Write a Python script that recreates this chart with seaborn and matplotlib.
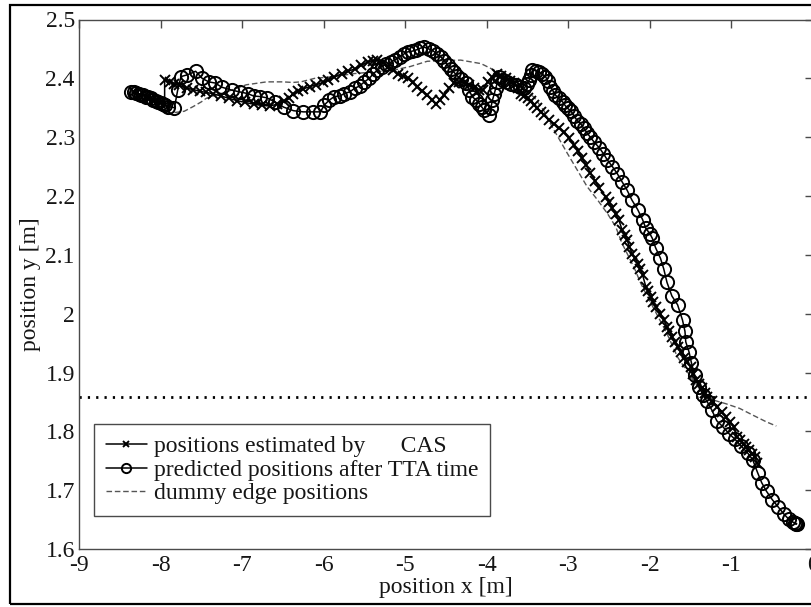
import matplotlib
matplotlib.use("Agg")
import matplotlib.pyplot as plt
from matplotlib.patches import Rectangle
import seaborn as sns

# ---------------- data ----------------
cas_x = [-8.33, -8.25, -8.17, -8.09, -8.01, -7.95,
         -7.95, -7.89, -7.83, -7.77, -7.68, -7.60, -7.52, -7.44, -7.36, -7.26, -7.16, -7.06,
         -6.96, -6.86, -6.76, -6.66, -6.57, -6.49, -6.43, -6.37, -6.31, -6.25, -6.17, -6.09,
         -6.01, -5.95, -5.87, -5.78, -5.70, -5.62, -5.54, -5.46, -5.40, -5.34, -5.27, -5.21,
         -5.15, -5.09, -5.03, -4.97, -4.91, -4.85, -4.79, -4.73, -4.67, -4.62, -4.57, -4.52,
         -4.46, -4.40, -4.34, -4.28, -4.22, -4.16, -4.10, -4.05, -3.99, -3.93, -3.87, -3.82,
         -3.77, -3.72, -3.67, -3.62, -3.58, -3.54, -3.50, -3.46, -3.42, -3.38, -3.34, -3.30,
         -3.24, -3.18, -3.12, -3.05, -2.99, -2.93, -2.88, -2.83, -2.78, -2.73, -2.67, -2.62,
         -2.54, -2.50, -2.46, -2.42, -2.38, -2.34, -2.31, -2.28, -2.25, -2.22, -2.18, -2.15,
         -2.12, -2.09, -2.05, -2.02, -1.99, -1.96, -1.93, -1.87, -1.83, -1.79, -1.76, -1.73,
         -1.69, -1.66, -1.62, -1.58, -1.54, -1.50, -1.47, -1.44, -1.40, -1.36, -1.33, -1.30,
         -1.24, -1.18, -1.12, -1.07, -1.02, -0.97, -0.93, -0.89, -0.85, -0.82, -0.79, -0.75,
         -0.71, -0.69]
cas_y = [2.376, 2.372, 2.368, 2.364, 2.358, 2.354,
         2.397, 2.394, 2.391, 2.388, 2.383, 2.381, 2.378, 2.376, 2.374, 2.370, 2.366, 2.362,
         2.359, 2.356, 2.354, 2.353, 2.356, 2.361, 2.367, 2.373, 2.378, 2.382, 2.386, 2.389,
         2.393, 2.397, 2.402, 2.408, 2.412, 2.416, 2.422, 2.428, 2.430, 2.431, 2.426, 2.420,
         2.414, 2.408, 2.404, 2.400, 2.393, 2.386, 2.379, 2.372, 2.364, 2.357, 2.364, 2.372,
         2.383, 2.392, 2.393, 2.392, 2.388, 2.383, 2.381, 2.380, 2.394, 2.403, 2.408, 2.404,
         2.400, 2.396, 2.392, 2.384, 2.374, 2.370, 2.366, 2.361, 2.355, 2.349, 2.343, 2.338,
         2.330, 2.323, 2.316, 2.309, 2.298, 2.287, 2.276, 2.264, 2.252, 2.239, 2.226, 2.213,
         2.199, 2.189, 2.179, 2.169, 2.159, 2.142, 2.134, 2.125, 2.114, 2.102, 2.094, 2.085,
         2.076, 2.066, 2.046, 2.038, 2.029, 2.020, 2.012, 2.000, 1.989, 1.978, 1.970, 1.961,
         1.952, 1.944, 1.934, 1.924, 1.917, 1.910, 1.898, 1.887, 1.880, 1.873, 1.866, 1.859,
         1.851, 1.842, 1.833, 1.825, 1.816, 1.808, 1.791, 1.785, 1.779, 1.773, 1.768, 1.762,
         1.757, 1.746]

tta_x = [-8.36, -8.33, -8.30, -8.27, -8.24, -8.21, -8.18, -8.15, -8.12, -8.09, -8.06, -8.03,
         -8.00, -7.97, -7.94, -7.91, -7.83,
         -7.79, -7.75, -7.67, -7.57, -7.49, -7.41, -7.33, -7.25, -7.13, -7.03, -6.93, -6.86,
         -6.78, -6.70, -6.60, -6.49, -6.37, -6.25, -6.13, -6.04, -5.99, -5.93, -5.87, -5.80,
         -5.75, -5.68, -5.62, -5.56, -5.50, -5.44, -5.39, -5.34, -5.29, -5.23, -5.17, -5.12,
         -5.07, -5.02, -4.97, -4.92, -4.87, -4.82, -4.77, -4.71, -4.66, -4.61, -4.56, -4.52,
         -4.48, -4.44, -4.40, -4.36, -4.31, -4.26, -4.22, -4.18, -4.13, -4.09, -4.06, -4.03,
         -3.97, -3.95, -3.93, -3.91, -3.89, -3.87, -3.85, -3.80, -3.75, -3.70, -3.64, -3.59,
         -3.54, -3.51, -3.48, -3.46, -3.44, -3.40, -3.36, -3.32, -3.28, -3.25, -3.22, -3.19,
         -3.16, -3.12, -3.07, -3.04, -3.01, -2.97, -2.93, -2.89, -2.85, -2.81, -2.77, -2.73,
         -2.68, -2.62, -2.57, -2.52, -2.46, -2.40, -2.34, -2.28, -2.22, -2.15, -2.09, -2.05,
         -2.00, -1.97, -1.93, -1.87, -1.83, -1.79, -1.73, -1.66, -1.60, -1.57, -1.56, -1.52,
         -1.49, -1.45, -1.40, -1.35, -1.30, -1.24, -1.18, -1.10, -1.03, -0.96, -0.88, -0.80,
         -0.74, -0.68, -0.63, -0.57, -0.50, -0.43, -0.36, -0.30, -0.25, -0.22, -0.20, -0.21]
tta_y = [2.377, 2.376, 2.375, 2.374, 2.372, 2.371, 2.369, 2.368, 2.366, 2.364, 2.362, 2.360,
         2.358, 2.356, 2.354, 2.352, 2.350,
         2.380, 2.403, 2.406, 2.412, 2.400, 2.394, 2.392, 2.385, 2.380, 2.377, 2.374, 2.370,
         2.369, 2.367, 2.360, 2.351, 2.345, 2.343, 2.343, 2.343, 2.355, 2.363, 2.369, 2.370,
         2.374, 2.377, 2.383, 2.387, 2.394, 2.400, 2.408, 2.414, 2.420, 2.424, 2.428, 2.432,
         2.437, 2.441, 2.445, 2.446, 2.448, 2.451, 2.453, 2.450, 2.447, 2.441, 2.436, 2.430,
         2.422, 2.416, 2.410, 2.404, 2.399, 2.392, 2.381, 2.369, 2.363, 2.357, 2.351, 2.346,
         2.338, 2.350, 2.363, 2.373, 2.383, 2.393, 2.403, 2.398, 2.394, 2.391, 2.389, 2.386,
         2.383, 2.390, 2.397, 2.406, 2.414, 2.413, 2.411, 2.407, 2.403, 2.395, 2.386, 2.379,
         2.372, 2.366, 2.360, 2.354, 2.349, 2.345, 2.336, 2.328, 2.323, 2.315, 2.307, 2.300,
         2.291, 2.282, 2.272, 2.261, 2.250, 2.238, 2.224, 2.210, 2.193, 2.177, 2.160, 2.145,
         2.136, 2.128, 2.112, 2.094, 2.076, 2.053, 2.030, 2.015, 1.989, 1.970, 1.952, 1.935,
         1.916, 1.895, 1.876, 1.862, 1.851, 1.836, 1.818, 1.807, 1.796, 1.787, 1.775, 1.763,
         1.752, 1.730, 1.713, 1.698, 1.684, 1.672, 1.660, 1.651, 1.646, 1.644, 1.643, 1.642]

edge_x = [-7.93, -7.82, -7.71, -7.60, -7.50, -7.44, -7.38, -7.19, -6.95, -6.70, -6.50, -6.38,
          -6.28, -6.11, -5.87, -5.63, -5.38, -5.14, -4.94, -4.73, -4.56, -4.32, -4.07, -3.91,
          -3.75, -3.55, -3.42, -3.30, -3.20, -3.13, -3.01, -2.89, -2.77, -2.64, -2.52, -2.42,
          -2.34, -2.26, -2.18, -2.11, -2.03, -1.90, -1.79, -1.66, -1.54, -1.38, -1.22, -1.07,
          -0.90, -0.73, -0.57, -0.45]
edge_y = [2.340, 2.342, 2.344, 2.352, 2.360, 2.366, 2.369, 2.377, 2.389, 2.394, 2.394, 2.393,
          2.394, 2.400, 2.403, 2.408, 2.411, 2.414, 2.420, 2.429, 2.430, 2.431, 2.425, 2.414,
          2.397, 2.381, 2.368, 2.345, 2.318, 2.301, 2.272, 2.244, 2.216, 2.193, 2.170, 2.148,
          2.119, 2.097, 2.074, 2.051, 2.029, 1.995, 1.966, 1.926, 1.901, 1.870, 1.853, 1.847,
          1.839, 1.827, 1.816, 1.809]

threshold_y = 1.858

series_labels = ["positions estimated by      CAS",
                 "predicted positions after TTA time",
                 "dummy edge positions"]
x_ticks = [-9, -8, -7, -6, -5, -4, -3, -2, -1, 0]
x_ticklabels = ["-9", "-8", "-7", "-6", "-5", "-4", "-3", "-2", "-1", "0"]
y_ticks = [1.6, 1.7, 1.8, 1.9, 2.0, 2.1, 2.2, 2.3, 2.4, 2.5]
y_ticklabels = ["1.6", "1.7", "1.8", "1.9", "2", "2.1", "2.2", "2.3", "2.4", "2.5"]

# ---------------- style ----------------
sns.set_theme(style="white")
plt.rcParams["font.family"] = ["Liberation Serif", "DejaVu Serif"]
FS = 17
plt.rcParams["font.size"] = FS

spine_col = "#4a4a4a"
text_col = "#161616"

fig = plt.figure(figsize=(8.12, 6.07), dpi=100)
fig.patch.set_facecolor("white")
ax = fig.add_axes([79 / 812, 1 - 549 / 607, (813 - 79) / 812, (549 - 19.5) / 607])
ax.set_facecolor("white")

sns.lineplot(x=edge_x, y=edge_y, sort=False, estimator=None, ax=ax,
             color="#555555", linewidth=1.0, dashes=False,
             linestyle=(0, (4, 2)), label=series_labels[2], legend=False)
sns.lineplot(x=cas_x, y=cas_y, sort=False, estimator=None, ax=ax,
             color="black", linewidth=1.1, marker="x", markersize=7,
             markeredgewidth=1.4, markeredgecolor="black",
             label=series_labels[0], legend=False)
sns.lineplot(x=tta_x, y=tta_y, sort=False, estimator=None, ax=ax,
             color="black", linewidth=1.1, marker="o", markersize=9.5,
             markeredgewidth=1.4, markeredgecolor="black", markerfacecolor="none",
             label=series_labels[1], legend=False)

ax.axhline(threshold_y, color="black", linewidth=2.0, linestyle=(0, (0.8, 2.2)))

ax.set_xlim(-9, 0)
ax.set_ylim(1.6, 2.5)
ax.set_xticks(x_ticks)
ax.set_xticklabels(x_ticklabels)
ax.set_yticks(y_ticks)
ax.set_yticklabels(y_ticklabels)
ax.tick_params(direction="in", length=6, width=1.0, color=spine_col,
               top=True, right=True, labelsize=FS, labelcolor=text_col)
ax.tick_params(axis="x", pad=4)
ax.tick_params(axis="y", pad=3)
for s in ax.spines.values():
    s.set_color(spine_col)
    s.set_linewidth(1.0)
    s.set_visible(True)

ax.set_xlabel("position x [m]", fontsize=FS, labelpad=1, color=text_col)
ax.set_ylabel("position y [m]", fontsize=FS, labelpad=3, color=text_col)

handles, labels = ax.get_legend_handles_labels()
order = [labels.index(l) for l in series_labels]
leg = ax.legend([handles[i] for i in order], [labels[i] for i in order],
                loc="lower left", bbox_to_anchor=(0.0204, 0.0623), borderaxespad=0,
                fancybox=False, framealpha=1, edgecolor=spine_col, fontsize=FS,
                handlelength=1.75, handletextpad=0.3, labelspacing=0.08,
                borderpad=0.5, markerscale=0.7)
leg.get_frame().set_linewidth(1.0)
for t in leg.get_texts():
    t.set_color(text_col)

fig.add_artist(Rectangle((10 / 812, 3 / 607), 1.2, 599 / 607, transform=fig.transFigure,
                         fill=False, edgecolor="black", linewidth=1.6))

fig.savefig("out.png", dpi=100, facecolor="white")
